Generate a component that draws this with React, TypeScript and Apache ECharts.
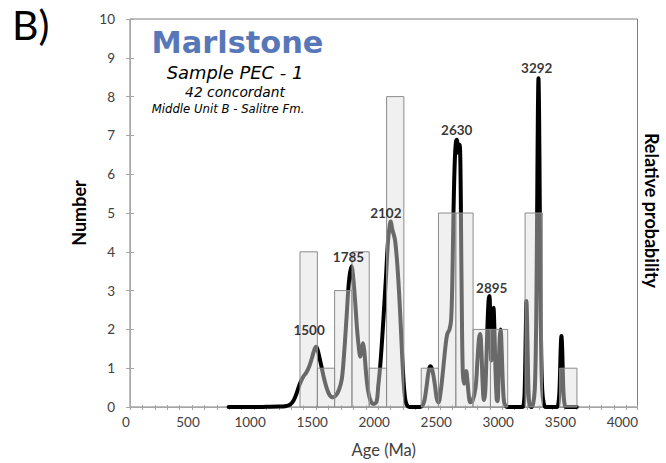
import React, { useEffect, useRef } from "react";
import * as echarts from "echarts";

// Histogram bins (Ma) and counts
const binEdges = [1370, 1510, 1649, 1789, 1928, 2068, 2207, 2347, 2486, 2626, 2765, 2905, 3044, 3184, 3323, 3463, 3602];
const binCounts = [4, 1, 3, 4, 1, 8, 0, 1, 5, 5, 2, 2, 0, 5, 0, 1];

// Relative probability curve (scaled to the Number axis)
const probAge = [
  795, 900, 1000, 1100, 1200, 1250, 1290, 1317, 1340, 1360, 1380, 1400, 1420, 1445, 1465, 1485, 1500, 1512, 1525, 1546,
  1565, 1586, 1610, 1635, 1660, 1685, 1707, 1725, 1747, 1765, 1785, 1800, 1815, 1830, 1845, 1856, 1868, 1878, 1888, 1903,
  1920, 1940, 1965, 1988, 2001, 2015, 2029, 2045, 2063, 2080, 2095, 2102, 2112, 2125, 2136, 2150, 2162, 2176, 2190, 2205,
  2218, 2232, 2250, 2340, 2360, 2375, 2391, 2408, 2423, 2440, 2458, 2472, 2486, 2502, 2524, 2542, 2557, 2575, 2588, 2598,
  2607, 2617, 2627, 2634, 2645, 2656, 2663, 2668, 2674, 2682, 2692, 2700, 2709, 2720, 2730, 2742, 2760, 2785, 2800, 2812,
  2822, 2832, 2842, 2852, 2862, 2872, 2882, 2890, 2896, 2903, 2911, 2917, 2923, 2929, 2936, 2945, 2955, 2962, 2972, 2980,
  2987, 2995, 3005, 3015, 3030, 3045, 3160, 3172, 3180, 3186, 3191, 3195, 3200, 3206, 3212, 3220, 3235, 3250, 3262, 3270,
  3276, 3282, 3287, 3292, 3297, 3302, 3308, 3314, 3322, 3334, 3350, 3440, 3452, 3460, 3466, 3471, 3477, 3483, 3488, 3494,
  3502, 3515, 3600,
];
const probValue = [
  0, 0, 0, 0.005, 0.01, 0.02, 0.06, 0.16, 0.33, 0.52, 0.68, 0.8, 0.88, 1.05, 1.25, 1.47, 1.55, 1.47, 1.3, 1.0,
  0.72, 0.48, 0.3, 0.25, 0.3, 0.45, 0.72, 1.35, 2.4, 3.25, 3.63, 3.3, 2.7, 2.0, 1.5, 1.3, 1.5, 1.64, 1.45, 0.85,
  0.4, 0.15, 0.08, 0.15, 0.55, 1.0, 1.6, 2.4, 3.35, 4.3, 4.72, 4.78, 4.6, 4.45, 4.3, 3.85, 3.3, 2.5, 1.55, 0.65,
  0.2, 0.05, 0, 0, 0.05, 0.2, 0.55, 0.95, 1.05, 0.9, 0.55, 0.22, 0.12, 0.35, 0.98, 1.55, 1.88, 2.0, 2.25, 3.3,
  5.0, 6.3, 6.85, 6.89, 6.55, 6.76, 6.2, 4.6, 2.6, 0.9, 0.6, 0.8, 0.93, 0.65, 0.3, 0.12, 0.15, 0.5, 1.2, 1.75,
  1.88, 1.45, 0.6, 0.18, 0.35, 1.2, 2.2, 2.75, 2.86, 2.4, 1.2, 1.6, 2.35, 2.56, 2.1, 1.0, 0.2, 0.15, 1.05, 1.8,
  2.0, 1.5, 0.6, 0.12, 0.02, 0, 0, 0.05, 0.35, 1.2, 2.2, 2.73, 2.25, 1.2, 0.4, 0.05, 0, 0.1, 0.45, 1.4,
  3.0, 5.4, 7.5, 8.47, 7.5, 5.4, 3.0, 1.4, 0.45, 0.1, 0, 0, 0.08, 0.35, 0.9, 1.5, 1.83, 1.5, 0.9, 0.35,
  0.08, 0, 0,
];

// Peak annotations
const peakLabels = ["1500", "1785", "2102", "2630", "2895", "3292"];
const peakLabelAge = [1443, 1761, 2062, 2633, 2915, 3278];
const peakLabelY = [1.99, 3.86, 5.01, 7.15, 3.06, 8.74];

const FONT = "Lato, 'Open Sans', sans-serif";
const TFONT = "'DejaVu Sans', Lato, sans-serif";

export default function App() {
  const ref = useRef<HTMLDivElement>(null);
  useEffect(() => {
    if (!ref.current) return;
    const chart = echarts.init(ref.current, null, { renderer: "svg" });

    const barData = binCounts
      .map((c, i) => [binEdges[i], binEdges[i + 1], c])
      .filter((d) => d[2] > 0);

    const option: any = {
      animation: false,
      backgroundColor: "#ffffff",
      textStyle: { fontFamily: FONT },
      grid: {
        left: 130,
        right: 28.5,
        top: 19,
        bottom: 55,
        show: true,
        borderColor: "#7f7f7f",
        borderWidth: 1,
        containLabel: false,
      },
      xAxis: [
        {
          type: "value",
          min: 0,
          max: 4090,
          interval: 100,
          position: "bottom",
          axisLine: { show: true, lineStyle: { color: "#a6a6a6", width: 1 } },
          axisTick: { show: true, length: 3, lineStyle: { color: "#a6a6a6" } },
          axisLabel: {
            formatter: (v: number) => (v % 500 === 0 ? String(v) : ""),
            margin: 8,
            fontSize: 13.5,
            color: "#404040",
            fontFamily: FONT,
            padding: [0, 8, 0, 0],
          },
          splitLine: { show: false },
          name: "Age (Ma)",
          nameLocation: "middle",
          nameGap: 34,
          nameTextStyle: { fontSize: 16.5, color: "#404040", fontFamily: FONT },
        },
        {
          type: "value",
          min: 0,
          max: 4090,
          interval: 100,
          position: "bottom",
          axisLine: { show: false },
          axisTick: { show: true, inside: true, length: 2, lineStyle: { color: "#a6a6a6" } },
          axisLabel: { show: false },
          splitLine: { show: false },
        },
      ],
      yAxis: [
        {
          type: "value",
          min: 0,
          max: 10,
          interval: 1,
          position: "left",
          axisLine: { show: true, lineStyle: { color: "#a6a6a6", width: 1 } },
          axisTick: { show: true, length: 4, lineStyle: { color: "#a6a6a6" } },
          axisLabel: { margin: 15, fontSize: 13.5, color: "#404040", fontFamily: FONT },
          splitLine: { show: false },
          name: "Number",
          nameLocation: "middle",
          nameGap: 38,
          nameTextStyle: { fontSize: 18, fontWeight: "bold", color: "#000", fontFamily: FONT },
        },
        {
          type: "value",
          min: 0,
          max: 10,
          interval: 1,
          position: "left",
          axisLine: { show: false },
          axisTick: { show: true, inside: true, length: 4, lineStyle: { color: "#a6a6a6" } },
          axisLabel: { show: false },
          splitLine: { show: false },
        },
      ],
      series: [
        {
          type: "line",
          xAxisIndex: 0,
          yAxisIndex: 0,
          data: probAge.map((a, i) => [a, probValue[i]]),
          showSymbol: false,
          smooth: 0.35,
          lineStyle: { color: "#000000", width: 4, cap: "round", join: "round" },
          z: 2,
        },
        {
          type: "custom",
          xAxisIndex: 0,
          yAxisIndex: 0,
          data: barData,
          encode: { x: [0, 1], y: 2 },
          renderItem: (params: any, api: any) => {
            const x0 = api.value(0);
            const x1 = api.value(1);
            const c = api.value(2);
            const p0 = api.coord([x0, c]);
            const p1 = api.coord([x1, 0]);
            return {
              type: "rect",
              shape: { x: p0[0], y: p0[1], width: p1[0] - p0[0], height: p1[1] - p0[1] },
              style: { fill: "rgba(226,224,224,0.47)", stroke: "#8c8c8c", lineWidth: 1 },
            };
          },
          z: 3,
        },
        {
          type: "scatter",
          xAxisIndex: 0,
          yAxisIndex: 0,
          symbolSize: 0,
          data: peakLabels.map((n, i) => ({ name: n, value: [peakLabelAge[i], peakLabelY[i]] })),
          label: {
            show: true,
            position: "inside",
            formatter: (p: any) => p.name,
            fontSize: 13.5,
            fontWeight: "bold",
            color: "#000",
            fontFamily: FONT,
          },
          z: 4,
        },
      ],
      graphic: [
        {
          type: "text",
          left: 12,
          top: 4,
          style: { text: "B)", fontSize: 41, fontFamily: FONT, fill: "#000" },
        },
        {
          type: "text",
          x: 237.5,
          y: 42.8,
          style: {
            text: "Marlstone",
            fontSize: 30.4,
            fontWeight: "bold",
            fontFamily: TFONT,
            fill: "#5877b9",
            align: "center",
            verticalAlign: "middle",
          },
        },
        {
          type: "text",
          x: 235,
          y: 72.3,
          style: {
            text: "Sample PEC - 1",
            fontSize: 17.9,
            fontStyle: "italic",
            fontFamily: TFONT,
            fill: "#000",
            align: "center",
            verticalAlign: "middle",
          },
        },
        {
          type: "text",
          x: 235,
          y: 92,
          style: {
            text: "42 concordant",
            fontSize: 13.8,
            fontStyle: "italic",
            fontFamily: TFONT,
            fill: "#000",
            align: "center",
            verticalAlign: "middle",
          },
        },
        {
          type: "text",
          x: 228,
          y: 109.4,
          style: {
            text: "Middle Unit B - Salitre Fm.",
            fontSize: 11.7,
            fontStyle: "italic",
            fontFamily: TFONT,
            fill: "#000",
            align: "center",
            verticalAlign: "middle",
          },
        },
        {
          type: "text",
          x: 652,
          y: 210.5,
          rotation: -Math.PI / 2,
          style: {
            text: "Relative probability",
            fontSize: 18,
            fontWeight: "bold",
            fontFamily: FONT,
            fill: "#000",
            align: "center",
            verticalAlign: "middle",
          },
        },
      ],
    };

    chart.setOption(option);
    return () => chart.dispose();
  }, []);

  return (
    <div
      ref={ref}
      style={{ position: "fixed", left: 0, top: 0, width: 666, height: 463, background: "#fff" }}
    />
  );
}
